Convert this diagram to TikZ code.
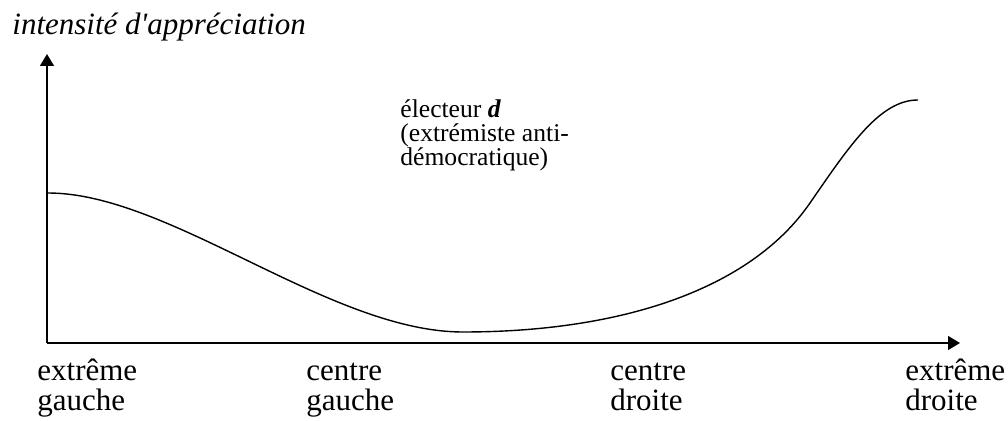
\documentclass[tikz,border=0pt]{standalone}
\usepackage{fontspec}
\setmainfont{Liberation Serif}
\usetikzlibrary{arrows.meta}
\tikzset{
    axislabel/.style = {anchor=base west, inner sep=0pt, align=left,
        font=\fontsize{15.5}{15}\selectfont},
    note/.style = {anchor=base west, inner sep=0pt, align=left,
        font=\fontsize{12.8}{12}\selectfont},
    axis/.style = {line width=0.7pt, -{Triangle[length=6pt,width=7pt]}},
    courbe/.style = {line width=0.7pt}
}

\begin{document}
\begin{tikzpicture}[x=0.5pt,y=-0.5pt]
    \useasboundingbox (0,0) rectangle (1008,421);
    % axes
    \coordinate(O) at (47,343);
    \coordinate(Xe) at (960,343);
    \coordinate(Ye) at (47,54);
    \draw [axis] (O)--(Xe);
    \draw [axis] (O)--(Ye);

    % courbe de l'electeur d
    \coordinate(Cg) at (48,193);
    \coordinate(Cm) at (463,332);
    \coordinate(Ci) at (810,203);
    \coordinate(Cd) at (918,100);
    \draw [courbe] (Cg) .. controls (170,193) and (330,332) .. (Cm)
        .. controls (620,332) and (750,290) .. (Ci)
        .. controls (850,145) and (880,100) .. (Cd);

    % textes (base = derniere ligne)
    \node[axislabel, font=\fontsize{15.5}{15}\itshape] (yl) at (12,35) {intensité d\textquotesingle appréciation};
    \node[note] (elec) at (400,166) {électeur \textbf{\textit{d}}\\(extrémiste anti-\\démocratique)};
    \node[axislabel] (eg) at (37,411) {extrême\\gauche};
    \node[axislabel] (cg) at (306,411) {centre\\gauche};
    \node[axislabel] (cd) at (610,411) {centre\\droite};
    \node[axislabel] (ed) at (905,411) {extrême\\droite};
\end{tikzpicture}
\end{document}
